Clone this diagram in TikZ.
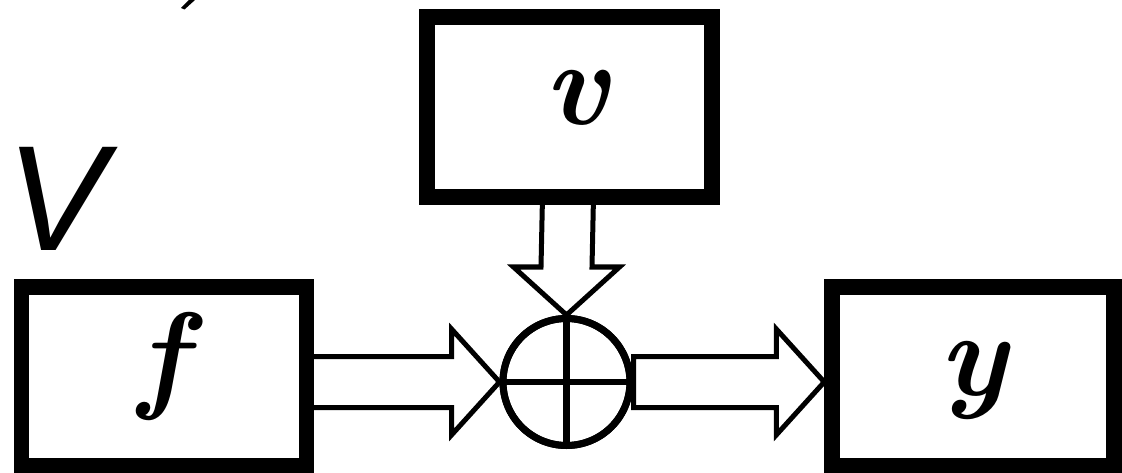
\documentclass[tikz,border=0pt]{standalone}
\usepackage{fontspec}
\newfontfamily\sansit{Liberation Sans}
\usetikzlibrary{calc}
\tikzset{
  blockbox/.style={draw, line width=15.5pt, rectangle, minimum width=285pt, minimum height=179pt, inner sep=0pt},
  sumnode/.style={draw, line width=7pt, circle, minimum size=127pt, inner sep=0pt},
  fatarrow/.style={draw, line width=5pt, fill=white, line join=miter, miter limit=10},
  crossline/.style={line width=6.5pt},
  lbl/.style={font=\fontsize{120}{140}\selectfont\bfseries\itshape, inner sep=0pt}
}
\begin{document}
\begin{tikzpicture}[x=1pt,y=-1pt]
\path[use as bounding box, fill=white] (0,0) rectangle (1122,473);
% nodes
\node[blockbox] (f) at (164,376.5) {};
\node[blockbox, minimum height=180pt] (v) at (569.5,107) {};
\node[blockbox, minimum width=282pt] (y) at (973,376.5) {};
\node[sumnode] (sum) at (566.5,382) {};
% labels
\node[lbl] (tf) at (162,366) {f};
\node[lbl] (tv) at (576,98) {v};
\node[lbl] (ty) at (973,380) {y};
\node[font=\fontsize{150}{170}\selectfont\sansit\itshape, inner sep=0pt] (tV) at (57,198.5) {V};
% fragment at top
\fill (181,8) -- (184.5,9.5) -- (195,0) -- (189,0) -- cycle;
% block arrows
\coordinate (a1s) at ($(f.east |- sum.center)+(-8,0)$);
\coordinate (a1e) at (sum.west);
\draw[fatarrow] ($(a1s)+(0,-25.5)$) -- ($(a1e)+(-48,-25.5)$) -- ($(a1e)+(-48,-53)$) -- (a1e)
  -- ($(a1e)+(-48,53)$) -- ($(a1e)+(-48,25.5)$) -- ($(a1s)+(0,25.5)$) -- cycle;
\coordinate (a2s) at (sum.east);
\coordinate (a2e) at (y.west |- sum.center);
\draw[fatarrow] ($(a2s)+(0,-25.5)$) -- ($(a2e)+(-48,-25.5)$) -- ($(a2e)+(-48,-53)$) -- (a2e)
  -- ($(a2e)+(-48,53)$) -- ($(a2e)+(-48,25.5)$) -- ($(a2s)+(0,25.5)$) -- cycle;
\coordinate (a3s) at ($(v.south -| sum.center)+(1.5,-8)$);
\coordinate (a3e) at (sum.north);
\draw[fatarrow] ($(a3s)+(-25.5,0)$) -- ($(a3e)+(-25.5,-48)$) -- ($(a3e)+(-53,-48)$) -- (a3e)
  -- ($(a3e)+(53,-48)$) -- ($(a3e)+(25.5,-48)$) -- ($(a3s)+(25.5,0)$) -- cycle;
% redraw boxes over arrow ends
\draw[line width=15.5pt] (f.south west) ++(7.75,-7.75) rectangle ($(f.north east)+(-7.75,7.75)$);
\draw[line width=15.5pt] (v.south west) ++(7.75,-7.75) rectangle ($(v.north east)+(-7.75,7.75)$);
% cross inside sum
\draw[crossline] (sum.north) -- (sum.south);
\draw[crossline] (sum.west) -- (sum.east);
\draw[line width=7pt] (sum.center) circle (63.5);
\end{tikzpicture}
\end{document}
